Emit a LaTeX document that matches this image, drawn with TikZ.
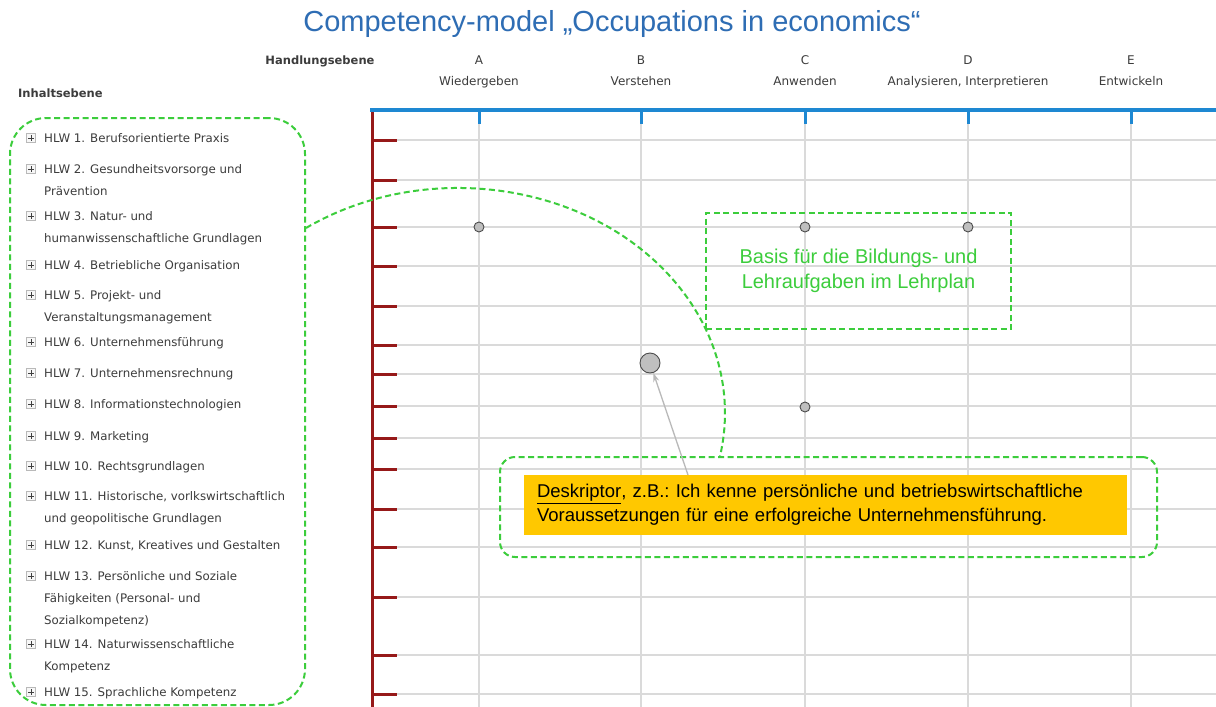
\documentclass[tikz,border=0pt]{standalone}
\usepackage{fontspec}
\setmainfont{Liberation Sans}
\newfontfamily\listfont{DejaVu Sans}
\usepackage{xcolor}
\usetikzlibrary{positioning, arrows.meta}

\definecolor{frameGreen}{RGB}{60,205,60}
\definecolor{titleBlue}{RGB}{46,109,180}
\definecolor{axisBlue}{RGB}{30,136,210}
\definecolor{axisRed}{RGB}{150,25,25}
\definecolor{gridGray}{RGB}{218,218,218}
\definecolor{deskYellow}{RGB}{255,200,0}
\definecolor{listGray}{RGB}{60,60,60}

\begin{document}
\begin{tikzpicture}[
    x=1pt, y=-1pt,
    item/.style={anchor=north west, align=left, inner sep=0pt, text=listGray, font=\listfont\fontsize{11.8}{22}\selectfont},
    plusbox/.style={draw=gray!55, fill=gray!6, minimum size=9pt, inner sep=0pt,
        path picture={\draw[black!75, line width=0.9pt]
            ([xshift=-2.8pt]path picture bounding box.center) -- ([xshift=2.8pt]path picture bounding box.center)
            ([yshift=-2.8pt]path picture bounding box.center) -- ([yshift=2.8pt]path picture bounding box.center);}},
    colhead/.style={font=\listfont\fontsize{12}{14}\selectfont, text=listGray, inner sep=1pt, text height=9pt, text depth=3pt},
    levelhead/.style={font=\listfont\bfseries\fontsize{11.5}{13}\selectfont, text=listGray, inner sep=1pt},
    gridline/.style={draw=gridGray, line width=1.2pt},
    dot/.style={circle, draw=gray!60!black, fill=gray!50, minimum size=10pt, inner sep=0pt, line width=0.9pt},
    greenframe/.style={draw=frameGreen, line width=2pt, dash pattern=on 6pt off 3.5pt},
    pointer/.style={-{Stealth[length=9pt, width=6pt]}, draw=gray!55, line width=1.3pt}
]
\useasboundingbox[fill=white] (0,0) rectangle (1216,707);

% Title
\node[font=\fontsize{29}{34}\selectfont, text=titleBlue] (title) at (612,24) {Competency-model „Occupations in economics“};

% Level headings
\node[levelhead] (handlung) at (320,61) {Handlungsebene};
\node[levelhead, anchor=west] (inhalt) at (17,93) {Inhaltsebene};

% Column headings
\node[colhead] (hA) at (479,61) {A};
\node[colhead] (hB) at (641,61) {B};
\node[colhead] (hC) at (805,61) {C};
\node[colhead] (hD) at (968,61) {D};
\node[colhead] (hE) at (1131,61) {E};
\node[colhead, below=7pt of hA] (nA) {Wiedergeben};
\node[colhead, below=7pt of hB] (nB) {Verstehen};
\node[colhead, below=7pt of hC] (nC) {Anwenden};
\node[colhead, below=7pt of hD] (nD) {Analysieren, Interpretieren};
\node[colhead, below=7pt of hE] (nE) {Entwickeln};

% Grid
\foreach \r in {140,180,227,266,306,345,374,406,438,469,509,547,597,655,694}
    \draw[gridline] (372,\r) -- (1216,\r);
\foreach \c in {479,641,805,968,1131}
    \draw[gridline] (\c,110) -- (\c,707);

% Axes
\draw[axisRed, line width=3pt] (372,110) -- (372,707);
\foreach \r in {140,180,227,266,306,345,374,406,438,469,509,547,597,655,694}
    \draw[axisRed, line width=3pt] (372,\r) -- (397,\r);
\draw[axisBlue, line width=3.5pt] (370,110) -- (1216,110);
\foreach \c in {479,641,805,968,1131}
    \draw[axisBlue, line width=3pt] (\c,110) -- (\c,124);

% Content areas
\node[plusbox] (p1) at (31,138) {};
\node[item] (i1) at (44,133) {HLW 1. Berufsorientierte Praxis};
\node[plusbox] (p2) at (31,169) {};
\node[item] (i2) at (44,164) {HLW 2. Gesundheitsvorsorge und\\Prävention};
\node[plusbox] (p3) at (31,216) {};
\node[item] (i3) at (44,211) {HLW 3. Natur- und\\humanwissenschaftliche Grundlagen};
\node[plusbox] (p4) at (31,265) {};
\node[item] (i4) at (44,260) {HLW 4. Betriebliche Organisation};
\node[plusbox] (p5) at (31,295) {};
\node[item] (i5) at (44,290) {HLW 5. Projekt- und\\Veranstaltungsmanagement};
\node[plusbox] (p6) at (31,342) {};
\node[item] (i6) at (44,337) {HLW 6. Unternehmensführung};
\node[plusbox] (p7) at (31,373) {};
\node[item] (i7) at (44,368) {HLW 7. Unternehmensrechnung};
\node[plusbox] (p8) at (31,404) {};
\node[item] (i8) at (44,399) {HLW 8. Informationstechnologien};
\node[plusbox] (p9) at (31,436) {};
\node[item] (i9) at (44,431) {HLW 9. Marketing};
\node[plusbox] (p10) at (31,466) {};
\node[item] (i10) at (44,461) {HLW 10. Rechtsgrundlagen};
\node[plusbox] (p11) at (31,496) {};
\node[item] (i11) at (44,491) {HLW 11. Historische, vorlkswirtschaftlich\\und geopolitische Grundlagen};
\node[plusbox] (p12) at (31,545) {};
\node[item] (i12) at (44,540) {HLW 12. Kunst, Kreatives und Gestalten};
\node[plusbox] (p13) at (31,576) {};
\node[item] (i13) at (44,571) {HLW 13. Persönliche und Soziale\\Fähigkeiten (Personal- und\\Sozialkompetenz)};
\node[plusbox] (p14) at (31,644) {};
\node[item] (i14) at (44,639) {HLW 14. Naturwissenschaftliche\\Kompetenz};
\node[plusbox] (p15) at (31,692) {};
\node[item] (i15) at (44,687) {HLW 15. Sprachliche Kompetenz};

% Descriptors
\node[dot] (dA) at (479,227) {};
\node[dot] (dC) at (805,227) {};
\node[dot] (dD) at (968,227) {};
\node[dot] (dC8) at (805,407) {};
\node[dot, minimum size=20pt] (bigdot) at (650,363) {};

% Callouts
\node[greenframe, rounded corners=36pt, minimum width=295pt, minimum height=587pt] (contentframe) at (157.5,411.5) {};
\node[greenframe, minimum width=305pt, minimum height=116pt, text=frameGreen, align=center,
      font=\fontsize{20}{24.5}\selectfont] (basis) at (858.5,271) {Basis für die Bildungs- und\\Lehraufgaben im Lehrplan};
\node[greenframe, rounded corners=15pt, minimum width=657pt, minimum height=100pt] (descframe) at (828.5,507) {};
\node[fill=deskYellow, text width=577pt, inner xsep=13pt, minimum height=60pt, align=left,
      font=\frenchspacing\fontsize{18.5}{24}\selectfont] (desk) at (825.5,505)
      {\underline{Deskriptor}, z.B.: Ich kenne persönliche und betriebswirtschaftliche\\Voraussetzungen für eine erfolgreiche Unternehmensführung.};

% Links
\draw[greenframe] (contentframe.east |- 0,228) arc[start angle=-124.7, end angle=11.3, x radius=267, y radius=225];
\coordinate (tail) at (688,475);
\draw[pointer] (tail) -- (bigdot);
\end{tikzpicture}
\end{document}
